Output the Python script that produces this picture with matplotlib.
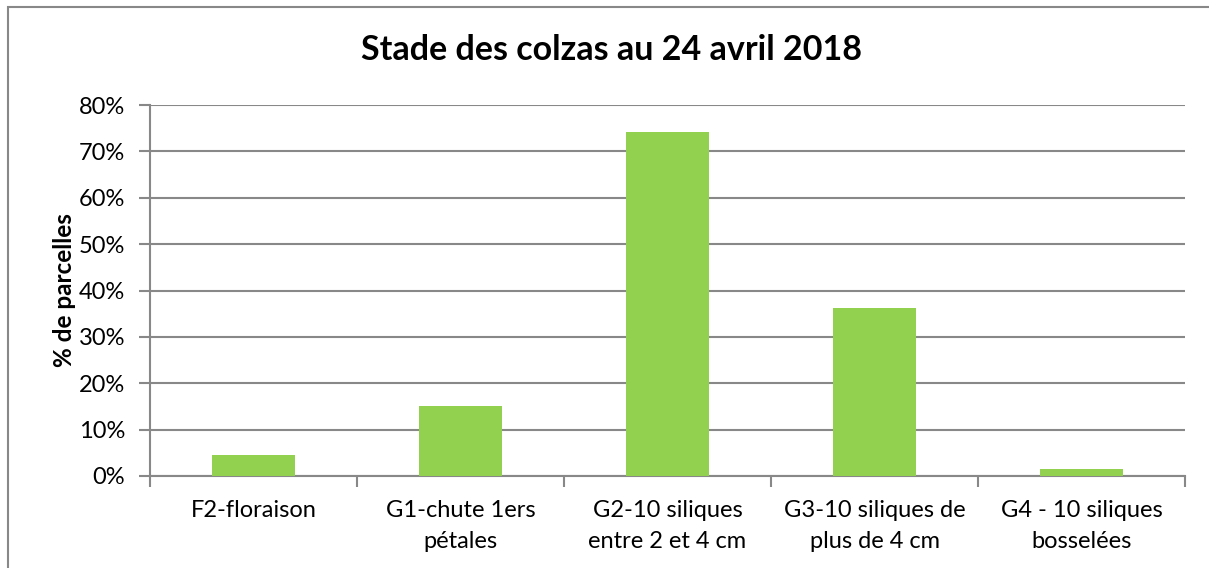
import matplotlib
matplotlib.use("Agg")
import matplotlib.pyplot as plt
from matplotlib.patches import Rectangle
from matplotlib.ticker import FuncFormatter, FixedLocator
import numpy as np

categories = ["F2-floraison", "G1-chute 1ers\npétales", "G2-10 siliques\nentre 2 et 4 cm",
              "G3-10 siliques de\nplus de 4 cm", "G4 - 10 siliques\nbosselées"]
values = [0.045, 0.151, 0.742, 0.363, 0.015]
y_ticks = [0, 0.1, 0.2, 0.3, 0.4, 0.5, 0.6, 0.7, 0.8]

GREEN = "#92D050"
GRAY = "#888888"
plt.rcParams["font.family"] = ["Lato", "DejaVu Sans"]

fig = plt.figure(figsize=(12.09, 5.68), dpi=100)
ax = fig.add_axes([150 / 1209, 1 - 476 / 568, 1035 / 1209, 371 / 568])

x = np.arange(len(categories))
ax.bar(x, values, width=0.4, color=GREEN, zorder=3)

ax.set_xlim(-0.5, len(categories) - 0.5)
ax.set_ylim(0, 0.8)
ax.set_yticks(y_ticks)
ax.yaxis.set_major_formatter(FuncFormatter(lambda v, _: f"{v:.0%}"))
ax.yaxis.grid(True, color=GRAY, lw=1.5, zorder=0)

# category labels centred, tick marks at the boundaries
ax.set_xticks(x)
ax.set_xticklabels(categories, fontsize=17, linespacing=1.6)
ax.tick_params(axis="x", length=0, pad=17)
ax.xaxis.set_minor_locator(FixedLocator(np.arange(-0.5, len(categories), 1)))
ax.tick_params(axis="x", which="minor", length=8, width=1.5, color=GRAY)
ax.tick_params(axis="y", length=8, width=1.5, color=GRAY, labelsize=17, pad=10)

for side in ("top", "right"):
    ax.spines[side].set_visible(False)
for side in ("left", "bottom"):
    ax.spines[side].set_color(GRAY)
    ax.spines[side].set_linewidth(1.5)

ax.set_ylabel("% de parcelles", fontsize=17.5, fontweight="bold", labelpad=2)
fig.text(0.5 + 7 / 1209, 1 - 50 / 568, "Stade des colzas au 24 avril 2018",
         ha="center", va="center", fontsize=24.5, fontweight="bold")

# outer chart border
fig.patches.append(Rectangle((8 / 1209, -0.1), 1.2, 1 - 7 / 568 + 0.1,
                             transform=fig.transFigure, fill=False,
                             edgecolor=GRAY, lw=1.5))

fig.savefig("out.png", dpi=100)
